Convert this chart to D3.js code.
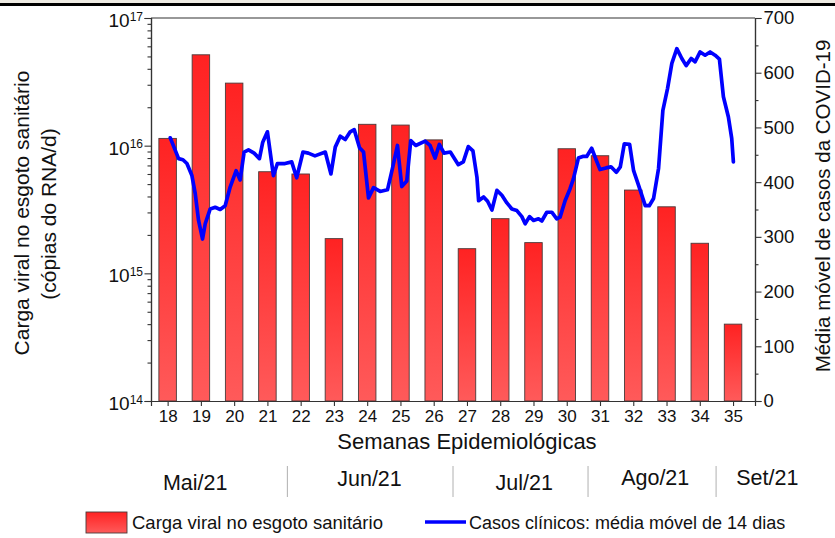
<!DOCTYPE html>
<html><head><meta charset="utf-8">
<script src="https://cdn.jsdelivr.net/npm/d3@7"></script>
<style>
body{margin:0;background:#fff}
svg{display:block;font-family:"Liberation Sans",Arial,sans-serif}
</style>
</head><body>
<svg id="c" width="835" height="538"></svg>
<script>
// ---------- DATA ----------
const weeks = [18,19,20,21,22,23,24,25,26,27,28,29,30,31,32,33,34,35];
const viralLoad = [1.14e16,5.15e16,3.09e16,6.25e15,6.0e15,1.87e15,1.47e16,1.45e16,1.11e16,
                   1.56e15,2.68e15,1.74e15,9.46e15,8.34e15,4.49e15,3.32e15,1.72e15,4.0e14];
const caseWeeks = [18.08,18.23,18.33,18.46,18.58,18.73,18.83,18.93,19.05,19.13,19.28,19.43,19.58,19.73,19.88,
  20.06,20.18,20.30,20.43,20.60,20.76,20.86,21.00,21.18,21.30,21.53,21.73,21.88,22.07,22.23,22.43,22.74,22.91,
  23.04,23.19,23.34,23.49,23.61,23.77,23.89,24.04,24.19,24.39,24.61,24.77,24.91,25.04,25.19,25.31,25.46,25.74,
  25.89,26.04,26.17,26.31,26.50,26.74,26.89,27.04,27.18,27.30,27.35,27.50,27.62,27.75,27.90,28.05,28.20,28.35,
  28.50,28.65,28.75,28.88,29.00,29.15,29.25,29.40,29.55,29.70,29.80,29.95,30.10,30.20,30.35,30.48,30.60,30.75,
  30.85,31.00,31.18,31.33,31.49,31.61,31.73,31.89,32.01,32.16,32.36,32.48,32.61,32.76,32.89,33.03,33.16,33.31,
  33.46,33.59,33.74,33.86,34.01,34.16,34.31,34.46,34.59,34.71,34.86,34.96,35.01];
const caseValues = [481,458,443,441,434,412,379,330,296,324,351,354,350,357,391,
  421,404,455,459,453,443,473,492,412,434,434,437,408,455,453,448,455,415,
  464,484,478,492,496,463,455,371,390,383,386,428,467,392,402,476,467,475,
  467,444,469,453,455,432,437,465,457,409,366,373,365,349,385,376,362,351,
  348,337,324,337,330,333,329,345,345,333,336,366,388,406,444,447,447,462,
  446,423,426,428,418,428,470,469,421,394,357,357,370,425,531,571,617,644,
  626,613,626,620,638,632,638,632,625,556,519,480,437];
const leftTicks = [1e14,1e15,1e16,1e17];
const leftTickExps = ["14","15","16","17"];
const rightTicks = [0,100,200,300,400,500,600,700];
const months = ["Mai/21","Jun/21","Jul/21","Ago/21","Set/21"];
const xTitle = "Semanas Epidemiológicas";
const yLeftTitle = ["Carga viral no esgoto sanitário","(cópias do RNA/d)"];
const yRightTitle = "Média móvel de casos da COVID-19";
const legendLabels = ["Carga viral no esgoto sanitário","Casos clínicos: média móvel de 14 dias"];

// ---------- LAYOUT ----------
const L = 151, R = 755, T = 18, B = 401;
const svg = d3.select("#c");
const axisColor = "#333";

svg.append("rect").attr("x",0).attr("y",0).attr("width",835).attr("height",3).attr("fill","#eeebe3");
svg.append("rect").attr("x",0).attr("y",3).attr("width",835).attr("height",3).attr("fill","#000");

const x = d3.scaleLinear().domain([17.5, 35.66]).range([L, R]);
const yL = d3.scaleLog().domain([1e14, 1e17]).range([B, T]);
const yR = d3.scaleLinear().domain([0, 700]).range([B, T]);

// gradient
const defs = svg.append("defs");
const g = defs.append("linearGradient").attr("id","barGrad").attr("x1",0).attr("y1",0).attr("x2",0).attr("y2",1);
g.append("stop").attr("offset","0%").attr("stop-color","#ff2222");
g.append("stop").attr("offset","100%").attr("stop-color","#ff5a5a");

// bars
const bw = 17.5;
svg.append("g").selectAll("rect").data(weeks).join("rect")
  .attr("x", (d)=> x(d) - bw/2)
  .attr("y", (d,i)=> yL(viralLoad[i]))
  .attr("width", bw)
  .attr("height", (d,i)=> B - yL(viralLoad[i]))
  .attr("fill","url(#barGrad)")
  .attr("stroke","#4a3a3a").attr("stroke-width",0.9);

// line
const line = d3.line().x(d=>x(d[0])).y(d=>yR(d[1]));
svg.append("path").datum(caseWeeks.map((w,i)=>[w, caseValues[i]]))
  .attr("d", line).attr("fill","none").attr("stroke","#0000ff")
  .attr("stroke-width",3.7).attr("stroke-linejoin","round").attr("stroke-linecap","round");

// frame top
svg.append("line").attr("x1",L).attr("x2",R).attr("y1",T).attr("y2",T).attr("stroke",axisColor).attr("stroke-width",1.2);

// left axis minor
const minorL = [];
[1e14,1e15,1e16].forEach(b=>{for(let k=2;k<=9;k++) minorL.push(b*k);});
const gLm = svg.append("g").attr("transform",`translate(${L},0)`)
  .call(d3.axisLeft(yL).tickValues(minorL).tickSize(3.5).tickFormat(""));
const gL = svg.append("g").attr("transform",`translate(${L},0)`)
  .call(d3.axisLeft(yL).tickValues(leftTicks).tickSize(6.5).tickFormat(""));
[gLm,gL].forEach(a=>{a.select(".domain").attr("stroke",axisColor).attr("stroke-width",1.2);
  a.selectAll(".tick line").attr("stroke",axisColor).attr("stroke-width",1.1);});
gL.selectAll(".tick").each(function(d,i){
  const t = d3.select(this).append("text").attr("x",-8).attr("y",2).attr("dy","0.35em")
    .attr("text-anchor","end").attr("fill","#111").style("font-size","19px");
  t.append("tspan").text("10");
  t.append("tspan").attr("dy","-0.55em").style("font-size","12px").text(leftTickExps[i]);
});

// right axis
const minorR = [50,150,250,350,450,550,650];
const gRm = svg.append("g").attr("transform",`translate(${R},0)`)
  .call(d3.axisRight(yR).tickValues(minorR).tickSize(3.5).tickFormat(""));
const gR = svg.append("g").attr("transform",`translate(${R},0)`)
  .call(d3.axisRight(yR).tickValues(rightTicks).tickSize(6.5).tickPadding(2).tickFormat(d3.format("d")));
[gRm,gR].forEach(a=>{a.select(".domain").attr("stroke",axisColor).attr("stroke-width",1.2);
  a.selectAll(".tick line").attr("stroke",axisColor).attr("stroke-width",1.1);});
gR.selectAll("text").attr("fill","#111").style("font-size","18.5px").style("font-family","Liberation Sans, Arial, sans-serif");

// bottom axis
const gB = svg.append("g").attr("transform",`translate(0,${B})`)
  .call(d3.axisBottom(x).tickValues(weeks).tickSize(5).tickPadding(4).tickFormat(d3.format("d")));
gB.select(".domain").attr("stroke",axisColor).attr("stroke-width",1.2);
gB.selectAll(".tick line").attr("stroke",axisColor).attr("stroke-width",1.1);
gB.selectAll("text").attr("fill","#111").style("font-size","17px").style("font-family","Liberation Sans, Arial, sans-serif");

// titles
svg.append("text").attr("x",467).attr("y",449).attr("text-anchor","middle")
  .style("font-size","22px").attr("fill","#111").text(xTitle);
svg.append("text").attr("transform","translate(22,213) rotate(-90)").attr("dy","0.35em")
  .attr("text-anchor","middle").style("font-size","21px").attr("fill","#111").text(yLeftTitle[0]);
svg.append("text").attr("transform","translate(49,214) rotate(-90)").attr("dy","0.35em")
  .attr("text-anchor","middle").style("font-size","21px").attr("fill","#111").text(yLeftTitle[1]);
svg.append("text").attr("transform","translate(823,206) rotate(-90)").attr("dy","0.35em")
  .attr("text-anchor","middle").style("font-size","20.5px").attr("fill","#111").text(yRightTitle);

// month row
const monthCenters = [18.83, 24.07, 28.72, 32.66, 36.03];
const monthBaseline = [490, 486, 490, 485, 485];
const monthBounds = [21.6, 26.58, 30.64, 34.49];
svg.append("g").selectAll("text").data(months).join("text")
  .attr("x",(d,i)=>x(monthCenters[i])).attr("y",(d,i)=>monthBaseline[i])
  .attr("text-anchor","middle").style("font-size","21.5px").attr("fill","#111").text(d=>d);
svg.append("g").selectAll("line").data(monthBounds).join("line")
  .attr("x1",d=>x(d)).attr("x2",d=>x(d)).attr("y1",466).attr("y2",497)
  .attr("stroke","#b0b0b0").attr("stroke-width",1);

// legend
svg.append("rect").attr("x",86).attr("y",512).attr("width",41).attr("height",21)
  .attr("fill","url(#barGrad)").attr("stroke","#4a3a3a").attr("stroke-width",0.9);
svg.append("text").attr("x",132).attr("y",529).style("font-size","18.5px").attr("fill","#111").text(legendLabels[0]);
svg.append("line").attr("x1",425).attr("x2",466).attr("y1",522).attr("y2",522)
  .attr("stroke","#0000ff").attr("stroke-width",3.7);
svg.append("text").attr("x",469).attr("y",529).style("font-size","18px").attr("fill","#111").text(legendLabels[1]);
</script>
</body></html>
